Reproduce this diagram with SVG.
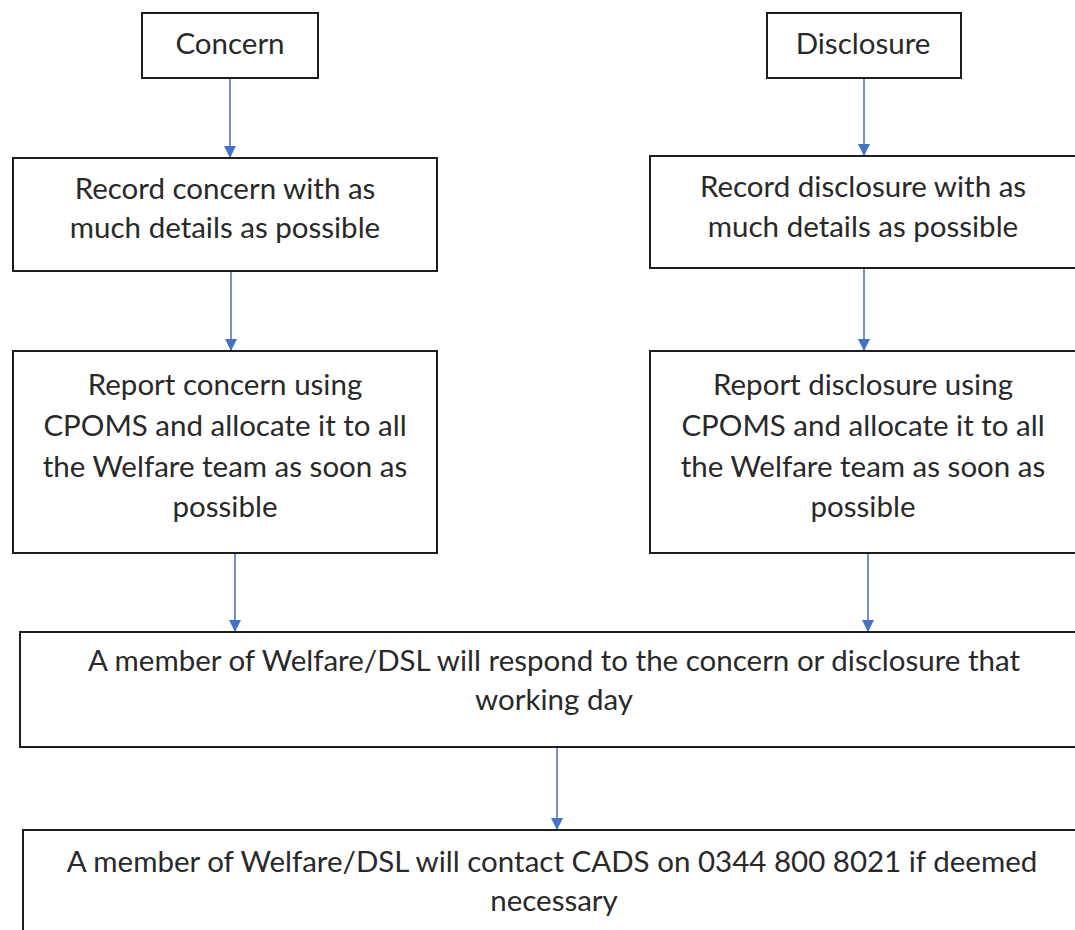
<svg xmlns="http://www.w3.org/2000/svg" width="1075" height="930" viewBox="0 0 1075 930">
<style>
.box{fill:#fff;stroke:#1e1e1e;stroke-width:2}
.t{font-family:Lato,"Liberation Sans",sans-serif;font-size:29.5px;fill:#292929;text-anchor:middle}
.c{stroke:#4a6db5;stroke-width:1.5;fill:none}
</style>
<defs>
<marker id="ah" markerWidth="13" markerHeight="13" refX="12" refY="6.5" orient="auto" markerUnits="userSpaceOnUse"><path d="M0,0.5 L12,6.5 L0,12.5 z" fill="#4472c4"/></marker>
</defs>
<rect width="1075" height="930" fill="#fff"/>
<g id="connectors">
<line class="c" x1="230" y1="78" x2="230" y2="158" marker-end="url(#ah)"/>
<line class="c" x1="864" y1="78" x2="864" y2="156" marker-end="url(#ah)"/>
<line class="c" x1="231" y1="271" x2="231" y2="351" marker-end="url(#ah)"/>
<line class="c" x1="864" y1="268" x2="864" y2="351" marker-end="url(#ah)"/>
<line class="c" x1="235" y1="553" x2="235" y2="632" marker-end="url(#ah)"/>
<line class="c" x1="868" y1="553" x2="868" y2="632" marker-end="url(#ah)"/>
<line class="c" x1="557" y1="747" x2="557" y2="830" marker-end="url(#ah)"/>
</g>
<g id="concern">
<rect class="box" x="142" y="13" width="176" height="65"/>
<text class="t" x="230" y="54">Concern</text>
</g>
<g id="disclosure">
<rect class="box" x="767" y="13" width="194" height="65"/>
<text class="t" x="863" y="54">Disclosure</text>
</g>
<g id="record-concern">
<rect class="box" x="13" y="158" width="424" height="113"/>
<text class="t" x="225" y="199">Record concern with as</text>
<text class="t" x="225" y="238">much details as possible</text>
</g>
<g id="record-disclosure">
<rect class="box" x="650" y="156" width="430" height="112"/>
<text class="t" x="863" y="197">Record disclosure with as</text>
<text class="t" x="863" y="237">much details as possible</text>
</g>
<g id="report-concern">
<rect class="box" x="13" y="351" width="424" height="202"/>
<text class="t" x="225" y="395">Report concern using</text>
<text class="t" x="225" y="436">CPOMS and allocate it to all</text>
<text class="t" x="225" y="477">the Welfare team as soon as</text>
<text class="t" x="225" y="517">possible</text>
</g>
<g id="report-disclosure">
<rect class="box" x="650" y="351" width="430" height="202"/>
<text class="t" x="863" y="395">Report disclosure using</text>
<text class="t" x="863" y="436">CPOMS and allocate it to all</text>
<text class="t" x="863" y="477">the Welfare team as soon as</text>
<text class="t" x="863" y="517">possible</text>
</g>
<g id="respond">
<rect class="box" x="20" y="632" width="1070" height="115"/>
<text class="t" x="554" y="671">A member of Welfare/DSL will respond to the concern or disclosure that</text>
<text class="t" x="554" y="710">working day</text>
</g>
<g id="contact">
<rect class="box" x="23" y="830" width="1070" height="120"/>
<text class="t" x="552" y="872">A member of Welfare/DSL will contact CADS on 0344 800 8021 if deemed</text>
<text class="t" x="554" y="911">necessary</text>
</g>
</svg>
